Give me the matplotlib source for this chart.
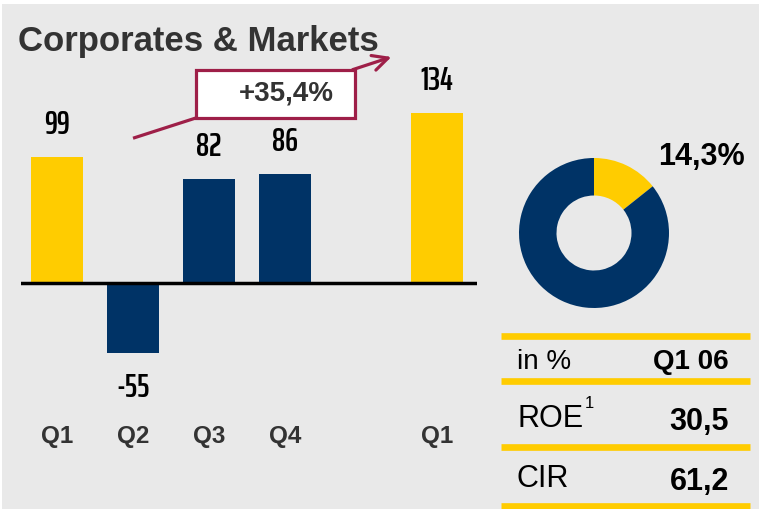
import matplotlib.pyplot as plt
from matplotlib import font_manager
from matplotlib.font_manager import FontProperties
from matplotlib.patches import Rectangle
from matplotlib.textpath import TextToPath

quarters = ['Q1', 'Q2', 'Q3', 'Q4', 'Q1']
positions = [0, 1, 2, 3, 5]
values = [99, -55, 82, 86, 134]
bar_colors = ['#FFCC00', '#003366', '#003366', '#003366', '#FFCC00']

growth_label = '+35,4%'
share = [14.3, 85.7]
share_label = '14,3%'

table_header = ['in %', 'Q1 06']
table_rows = [['ROE', '30,5'], ['CIR', '61,2']]

W, H = 761, 509
BG = '#e9e9e9'
GRAY = '#333333'
RED = '#9E1F48'
YELLOW = '#FFCC00'
NAVY = '#003366'
FONT = ['Liberation Sans', 'DejaVu Sans']


def is_bold(f):
    w = f.weight
    if isinstance(w, str):
        return w in ('bold', 'heavy', 'extra bold', 'black', 'semibold', 'demibold')
    return w >= 600


def is_narrow(f):
    name = f.fname.lower()
    return 'narrow' in name or 'condensed' in name


def label_font():
    # bold face whose "134" is closest to the reference shape (~33 px wide, ~23 px tall)
    cands = [FontProperties(family=FONT, weight='bold', size=10)]
    for f in sorted(font_manager.fontManager.ttflist, key=lambda f: f.fname):
        if is_narrow(f) and is_bold(f):
            cands.append(FontProperties(fname=f.fname, size=10))
    t2p = TextToPath()
    best, best_err, best_w = cands[0], 1e9, None
    for p in cands:
        try:
            w, h, d = t2p.get_text_width_height_descent('134', p, ismath=False)
        except Exception:
            continue
        err = abs(h / w - 23 / 33)
        if err < best_err:
            best, best_err, best_w = p, err, w
    size = 10 * 33 / (best_w * 100 / 72)
    best.set_size(min(24, max(16, size)))
    return best


LABEL_PROP = label_font()


def fx(px):
    return px / W


def fy(py):
    return 1 - py / H


fig = plt.figure(figsize=(W / 100, H / 100), dpi=100)
fig.patch.set_facecolor('white')
fig.add_artist(Rectangle((fx(2), 0), fx(757), 1 - 4 / H, transform=fig.transFigure,
                         facecolor=BG, edgecolor='none', zorder=-5))

fig.text(fx(18), fy(42), 'Corporates & Markets', fontsize=25, fontweight='bold',
         color=GRAY, family=FONT, va='center', ha='left')

# bar chart
ax = fig.add_axes([fx(21), fy(460), fx(456), 400 / H])
ax.set_facecolor('none')
ax.bar(positions, values, width=0.684, color=bar_colors, zorder=2)
ax.axhline(0, color='black', lw=2.5, zorder=3)
ax.set_xlim(-0.474, 5.526)
ax.set_ylim(-139.4, 175.6)
ax.axis('off')

for x, v, q in zip(positions, values, quarters):
    off = 23 if v >= 0 else -25
    ax.annotate(str(v), (x, v), xytext=(0, off), textcoords='offset points',
                ha='center', va='center', color='black', fontproperties=LABEL_PROP)
    ax.text(x, -121, q, ha='center', va='center', fontsize=17.5, fontweight='bold',
            color=GRAY, family=FONT)

# growth arrow
ax.plot([1.0, 1.83], [114, 130], color=RED, lw=2.3, solid_capstyle='butt', zorder=4)
ax.add_patch(Rectangle((1.83, 130), 2.09, 38, facecolor='white', edgecolor=RED,
                       lw=2.3, zorder=5))
ax.annotate('', xy=(4.40, 178), xytext=(3.89, 168),
            arrowprops=dict(arrowstyle='->,head_length=1.1,head_width=0.55',
                            color=RED, lw=2.3, shrinkA=0, shrinkB=0),
            annotation_clip=False, zorder=4)
ax.text(3.02, 149, growth_label, ha='center', va='center', fontsize=20,
        fontweight='bold', color=GRAY, family=FONT, zorder=6)

# donut
dax = fig.add_axes([fx(519), fy(308), fx(150), 150 / H])
dax.pie(share, colors=[YELLOW, NAVY], startangle=90, counterclock=False,
        radius=1, wedgeprops=dict(width=0.5, edgecolor='none'))
dax.set_xlim(-1, 1)
dax.set_ylim(-1, 1)
dax.set_aspect('equal')
dax.axis('off')
fig.text(fx(701), fy(157), share_label, ha='center', va='center', fontsize=22,
         fontweight='bold', color='black', family=FONT)

# table
for y in [336, 381, 446.5, 506]:
    fig.add_artist(plt.Line2D([fx(501), fx(750)], [fy(y), fy(y)], color=YELLOW,
                              lw=4.8, transform=fig.transFigure, solid_capstyle='butt'))

fig.text(fx(517), fy(362), table_header[0], ha='left', va='center', fontsize=20,
         color='black', family=FONT)
fig.text(fx(729), fy(362), table_header[1], ha='right', va='center', fontsize=20,
         fontweight='bold', color='black', family=FONT)

row_y = [419, 479]
for (name, val), y in zip(table_rows, row_y):
    fig.text(fx(517), fy(y), name, ha='left', va='center', fontsize=22,
             color='black', family=FONT)
    fig.text(fx(729), fy(y + 3), val, ha='right', va='center', fontsize=22,
             fontweight='bold', color='black', family=FONT)
fig.text(fx(585), fy(404), '1', ha='left', va='center', fontsize=12,
         color='black', family=FONT)

fig.savefig('out.png', dpi=100, facecolor=fig.get_facecolor())
